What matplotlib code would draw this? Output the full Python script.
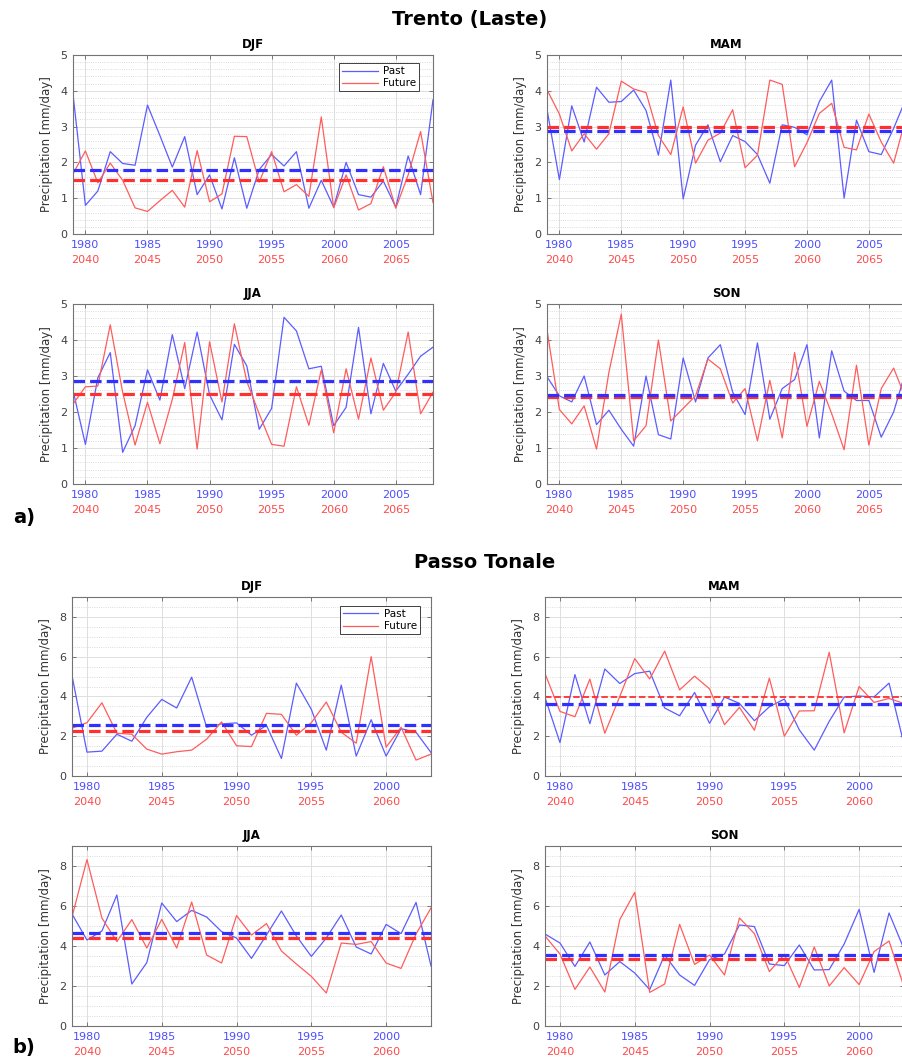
import matplotlib.pyplot as plt
from matplotlib.ticker import MultipleLocator


# ---------- Data ----------

SEASONS = ["DJF", "MAM", "JJA", "SON"]
FUTURE_SHIFT = 60  # future period = past year + 60

YEARS_TRENTO = list(range(1979, 2009))
YEARS_TONALE = list(range(1979, 2004))

XTICKS_TRENTO = [1980, 1985, 1990, 1995, 2000, 2005]
XTICKS_TONALE = [1980, 1985, 1990, 1995, 2000]

# Trento (Laste), mm/day
trento_djf_past = [3.9, 0.8, 1.2, 2.3, 1.97, 1.92, 3.6, 2.75, 1.87, 2.72,
                   1.1, 1.65, 0.7, 2.13, 0.72, 1.8, 2.22, 1.9, 2.3, 0.72,
                   1.5, 0.75, 2.0, 1.1, 1.03, 1.48, 0.75, 2.18, 1.1, 3.75]
trento_djf_future = [1.68, 2.32, 1.43, 1.98, 1.5, 0.73, 0.63, 0.93, 1.22, 0.75,
                     2.33, 0.9, 1.12, 2.73, 2.72, 1.45, 2.3, 1.18, 1.38, 1.05,
                     3.27, 0.73, 1.65, 0.67, 0.85, 1.88, 0.72, 1.65, 2.86, 0.88]
trento_mam_past = [3.48, 1.52, 3.58, 2.57, 4.1, 3.68, 3.7, 4.02, 3.45, 2.2,
                   4.3, 0.98, 2.48, 3.05, 2.02, 2.75, 2.58, 2.22, 1.42, 3.05,
                   2.98, 2.77, 3.7, 4.3, 1.0, 3.18, 2.3, 2.22, 2.95, 3.78]
trento_mam_future = [4.03, 3.35, 2.32, 2.8, 2.37, 2.8, 4.27, 4.05, 3.95, 2.75,
                     2.22, 3.55, 1.98, 2.62, 2.82, 3.47, 1.85, 2.2, 4.3, 4.18,
                     1.88, 2.55, 3.37, 3.65, 2.42, 2.35, 3.35, 2.57, 1.98, 3.25]
trento_jja_past = [2.6, 1.1, 2.95, 3.65, 0.88, 1.62, 3.17, 2.33, 4.15, 2.65,
                   4.22, 2.48, 1.78, 3.88, 3.28, 1.52, 2.1, 4.63, 4.25, 3.2,
                   3.27, 1.62, 2.13, 4.35, 1.95, 3.35, 2.58, 3.05, 3.55, 3.8]
trento_jja_future = [2.22, 2.7, 2.72, 4.42, 2.55, 1.08, 2.27, 1.12, 2.35, 3.93,
                     0.97, 3.95, 2.28, 4.45, 2.85, 1.95, 1.1, 1.05, 2.7, 1.63,
                     3.17, 1.42, 3.2, 1.8, 3.5, 2.05, 2.55, 4.22, 1.95, 2.55]
trento_son_past = [2.98, 2.45, 2.28, 3.0, 1.65, 2.05, 1.52, 1.05, 3.0, 1.37,
                   1.25, 3.5, 2.28, 3.5, 3.87, 2.55, 1.93, 3.92, 1.8, 2.65,
                   2.9, 3.87, 1.28, 3.7, 2.58, 2.32, 2.32, 1.3, 2.0, 3.15]
trento_son_future = [4.28, 2.07, 1.67, 2.17, 0.97, 3.1, 4.72, 1.2, 1.62, 4.0,
                     1.75, 2.1, 2.45, 3.47, 3.2, 2.25, 2.65, 1.2, 2.88, 1.28,
                     3.65, 1.6, 2.85, 1.95, 0.95, 3.3, 1.08, 2.65, 3.22, 2.35]

# seasonal means (past, future)
trento_mean_past = [1.8, 2.88, 2.86, 2.47]
trento_mean_future = [1.52, 2.98, 2.5, 2.43]

# Passo Tonale, mm/day
tonale_djf_past = [5.05, 1.2, 1.25, 2.1, 1.75, 2.95, 3.85, 3.42, 4.97, 2.45,
                   2.62, 2.67, 2.05, 2.55, 0.88, 4.67, 3.35, 1.3, 4.57, 1.0,
                   2.83, 1.0, 2.38, 2.2, 1.18]
tonale_djf_future = [2.4, 2.68, 3.68, 2.15, 2.1, 1.35, 1.1, 1.22, 1.3, 1.85,
                     2.72, 1.52, 1.48, 3.15, 3.1, 2.05, 2.68, 3.72, 2.2, 1.65,
                     6.0, 1.45, 2.45, 0.8, 1.1]
tonale_mam_past = [3.95, 1.68, 5.1, 2.63, 5.38, 4.65, 5.15, 5.27, 3.42, 3.03,
                   4.2, 2.65, 3.97, 3.65, 2.78, 3.48, 3.87, 2.32, 1.3, 2.75,
                   3.97, 4.02, 3.98, 4.67, 1.6]
tonale_mam_future = [5.15, 3.25, 2.98, 4.87, 2.15, 4.0, 5.9, 4.88, 6.28, 4.33,
                     5.02, 4.38, 2.58, 3.45, 2.3, 4.92, 2.0, 3.27, 3.28, 6.22,
                     2.17, 4.5, 3.7, 3.9, 3.65]
tonale_jja_past = [5.6, 4.3, 4.75, 6.55, 2.1, 3.17, 6.15, 5.22, 5.78, 5.45,
                   4.72, 4.4, 3.38, 4.55, 5.75, 4.5, 3.48, 4.4, 5.55, 3.95,
                   3.6, 5.08, 4.62, 6.18, 3.0]
tonale_jja_future = [5.45, 8.32, 5.4, 4.22, 5.32, 3.9, 5.33, 3.9, 6.2, 3.55,
                     3.15, 5.52, 4.55, 5.12, 3.75, 3.1, 2.48, 1.65, 4.15, 4.08,
                     4.22, 3.15, 2.88, 4.6, 5.9]
tonale_son_past = [4.6, 4.15, 2.98, 4.2, 2.55, 3.22, 2.65, 1.82, 3.55, 2.55,
                   2.03, 3.32, 3.6, 5.05, 4.97, 3.1, 3.02, 4.05, 2.8, 2.82,
                   4.1, 5.83, 2.68, 5.65, 3.85]
tonale_son_future = [4.5, 3.6, 1.83, 2.95, 1.7, 5.32, 6.68, 1.68, 2.1, 5.08,
                     3.08, 3.55, 2.55, 5.4, 4.62, 2.72, 3.58, 1.93, 3.95, 2.0,
                     2.92, 2.07, 3.72, 4.25, 1.95]

tonale_mean_past = [2.58, 3.62, 4.65, 3.55]
tonale_mean_future = [2.25, 3.98, 4.42, 3.35]


# ---------- Style ----------

C_PAST = "#5c5cff"
C_FUTURE = "#ff5c5c"
C_PAST_MEAN = "#3030ff"
C_FUTURE_MEAN = "#ff3030"
C_TICK_PAST = "#4d4dff"
C_TICK_FUTURE = "#ff4a4a"

W, H = 903, 1061


def box(x0, y0, x1, y1):
    # pixel box (top-left origin) -> figure fraction rect
    return [x0 / W, 1 - y1 / H, (x1 - x0) / W, (y1 - y0) / H]


def draw_panel(ax, years, past, future, m_past, m_future, xticks,
               ymax, ystep, yminor, title, legend_anchor=None,
               future_mean_lw=2.3):
    ax.plot(years, past, color=C_PAST, lw=0.9, label="Past")
    ax.plot(years, future, color=C_FUTURE, lw=0.9, label="Future")

    ax.plot([years[0], years[-1]], [m_future, m_future], color=C_FUTURE_MEAN,
            lw=future_mean_lw, dashes=(3.6, 1.6))
    ax.plot([years[0], years[-1]], [m_past, m_past], color=C_PAST_MEAN,
            lw=2.3, dashes=(3.6, 1.6))

    ax.set_xlim(years[0], years[-1])
    ax.set_ylim(0, ymax)
    ax.set_xticks(xticks)
    ax.set_yticks(range(0, ymax + 1, ystep))
    ax.yaxis.set_minor_locator(MultipleLocator(yminor))

    ax.grid(which="major", color="0.87", lw=0.7)
    ax.grid(which="minor", axis="y", color="0.82", lw=0.6, linestyle=":")
    ax.set_axisbelow(True)

    ax.tick_params(direction="in", length=3, width=0.6, top=True, right=True,
                   labelsize=8, pad=4, color="0.4")
    ax.tick_params(which="minor", length=0)
    ax.tick_params(axis="y", labelcolor="0.25")
    ax.tick_params(axis="x", labelcolor=C_TICK_PAST)
    for s in ax.spines.values():
        s.set_color("0.45")
        s.set_linewidth(0.8)

    # second row of year labels for the future period
    sec = ax.secondary_xaxis(-15 / 179, functions=(lambda x: x + FUTURE_SHIFT,
                                                   lambda x: x - FUTURE_SHIFT))
    sec.set_xticks([t + FUTURE_SHIFT for t in xticks])
    sec.tick_params(length=0, labelsize=8, pad=4, labelcolor=C_TICK_FUTURE)
    sec.spines["bottom"].set_visible(False)

    ax.set_ylabel("Precipitation [mm/day]", fontsize=8.5, color="0.2", labelpad=5)
    ax.set_title(title, fontsize=8.5, fontweight="bold", pad=5)

    if legend_anchor is not None:
        leg = ax.legend(loc="upper right", bbox_to_anchor=legend_anchor,
                        borderaxespad=0, fontsize=7.5, handlelength=3.4,
                        fancybox=False, framealpha=1, borderpad=0.3,
                        labelspacing=0.2, handletextpad=0.5)
        leg.get_frame().set_edgecolor("0.25")
        leg.get_frame().set_linewidth(0.7)


# ---------- Plot ----------

fig = plt.figure(figsize=(W / 100, H / 100), dpi=100)

trento = [(trento_djf_past, trento_djf_future), (trento_mam_past, trento_mam_future),
          (trento_jja_past, trento_jja_future), (trento_son_past, trento_son_future)]
tonale = [(tonale_djf_past, tonale_djf_future), (tonale_mam_past, tonale_mam_future),
          (tonale_jja_past, tonale_jja_future), (tonale_son_past, tonale_son_future)]

# right column is cut by the figure edge, as in the source figure
trento_boxes = [box(73, 55, 433, 234), box(547, 55, 906, 234),
                box(73, 304, 433, 484), box(547, 304, 906, 484)]
tonale_boxes = [box(72, 597, 431, 776), box(545, 597, 904, 776),
                box(72, 846, 431, 1026), box(545, 846, 904, 1026)]

for i, season in enumerate(SEASONS):
    ax = fig.add_axes(trento_boxes[i])
    past, future = trento[i]
    draw_panel(ax, YEARS_TRENTO, past, future, trento_mean_past[i],
               trento_mean_future[i], XTICKS_TRENTO, 5, 1, 0.2, season,
               legend_anchor=(0.961, 0.955) if i == 0 else None)

for i, season in enumerate(SEASONS):
    ax = fig.add_axes(tonale_boxes[i])
    past, future = tonale[i]
    draw_panel(ax, YEARS_TONALE, past, future, tonale_mean_past[i],
               tonale_mean_future[i], XTICKS_TONALE, 9, 2, 0.5, season,
               legend_anchor=(0.969, 0.95) if i == 0 else None,
               future_mean_lw=1.3 if season == "MAM" else 2.3)
    ax.set_yticks([0, 2, 4, 6, 8])

fig.text(0.52, 1 - 20 / H, "Trento (Laste)", ha="center", va="center",
         fontsize=14, fontweight="bold")
fig.text(0.537, 1 - 563 / H, "Passo Tonale", ha="center", va="center",
         fontsize=14, fontweight="bold")
fig.text(0.014, 1 - 518 / H, "a)", ha="left", va="center",
         fontsize=14, fontweight="bold")
fig.text(0.014, 1 - 1048 / H, "b)", ha="left", va="center",
         fontsize=14, fontweight="bold")

fig.savefig("out.png", dpi=100)
plt.close(fig)
